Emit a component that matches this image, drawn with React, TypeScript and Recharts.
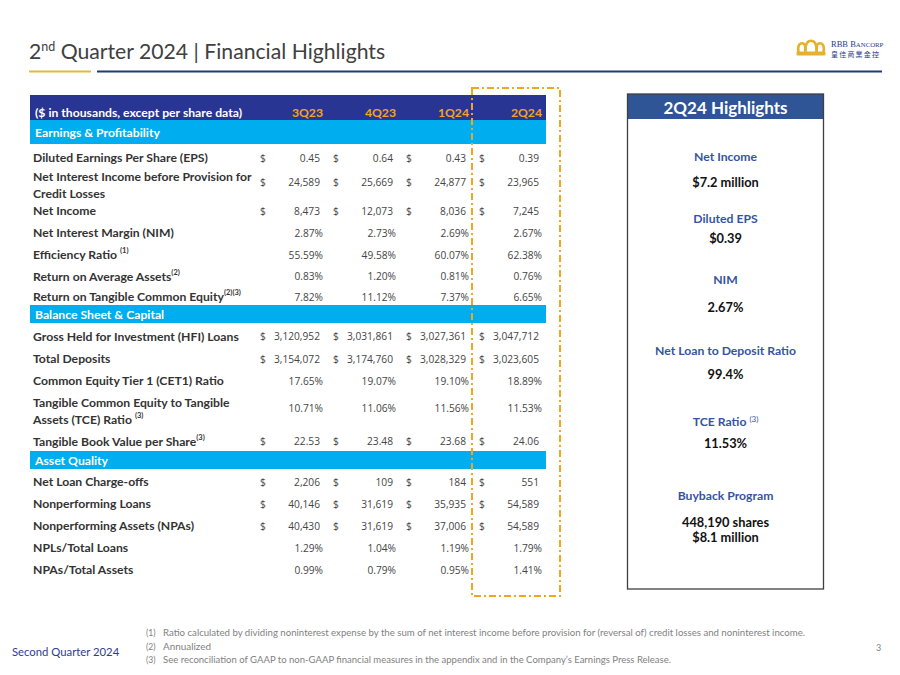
import React from 'react';
import { ScatterChart, Scatter, XAxis, YAxis, ReferenceArea } from 'recharts';

// ---------- DATA ----------
const quarters = ['3Q23', '4Q23', '1Q24', '2Q24'];
const sectionNames = ['Earnings & Profitability', 'Balance Sheet & Capital', 'Asset Quality'];

const dilutedEps = [0.45, 0.64, 0.43, 0.39];
const netInterestIncome = [24589, 25669, 24877, 23965];
const netIncome = [8473, 12073, 8036, 7245];
const nim = [2.87, 2.73, 2.69, 2.67];
const efficiencyRatio = [55.59, 49.58, 60.07, 62.38];
const roaa = [0.83, 1.2, 0.81, 0.76];
const rotce = [7.82, 11.12, 7.37, 6.65];
const hfiLoans = [3120952, 3031861, 3027361, 3047712];
const totalDeposits = [3154072, 3174760, 3028329, 3023605];
const cet1Ratio = [17.65, 19.07, 19.1, 18.89];
const tceRatio = [10.71, 11.06, 11.56, 11.53];
const tbvps = [22.53, 23.48, 23.68, 24.06];
const netChargeOffs = [2206, 109, 184, 551];
const nonperformingLoans = [40146, 31619, 35935, 54589];
const nonperformingAssets = [40430, 31619, 37006, 54589];
const nplRatio = [1.29, 1.04, 1.19, 1.79];
const npaRatio = [0.99, 0.79, 0.95, 1.41];

const highlightLabels = ['Net Income', 'Diluted EPS', 'NIM', 'Net Loan to Deposit Ratio', 'TCE Ratio', 'Buyback Program'];
const highlightSups = ['', '', '', '', '(3)', ''];
const highlightValues = [['$7.2 million'], ['$0.39'], ['2.67%'], ['99.4%'], ['11.53%'], ['448,190  shares', '$8.1 million']];

const footnotes = [
  'Ratio calculated by dividing noninterest expense by the sum of net interest income before provision for (reversal of) credit losses and noninterest income.',
  'Annualized',
  'See reconciliation of GAAP to non-GAAP financial measures in the appendix and in the Company\u2019s Earnings Press Release.',
];

// ---------- LAYOUT / STYLE ----------
const NAVY = '#283593';
const CYAN = '#00AEEF';
const ORANGE = '#F2A51F';
const LABEL_COLOR = '#333333';
const VALUE_COLOR = '#454545';
const HL_BLUE = '#2F5597';
const HL_LABEL = '#34559E';

const TABLE_LEFT = 30;
const TABLE_RIGHT = 546;
const TABLE_TOP = 95;
const TABLE_BOTTOM = 600;
const COL_RIGHT0 = 323;
const COL_STEP = 73;
const HEADER_H = 25;
const X_MIN = -(COL_RIGHT0 - TABLE_LEFT) / COL_STEP;
const X_MAX = X_MIN + (TABLE_RIGHT - TABLE_LEFT) / COL_STEP;
const Y_MAX = TABLE_BOTTOM - TABLE_TOP;
const FOOTNOTE_WIDTHS = [642, 48, 508];
const LABEL_SIZE = 12.2;

type Fmt = 'usd2' | 'usd0' | 'pct';
interface RowSpec {
  kind: 'section' | 'row';
  lines: string[];
  sup?: string;
  values?: number[];
  fmt?: Fmt;
  h: number;
}

const rowSpecs: RowSpec[] = [
  { kind: 'section', lines: [sectionNames[0]], h: 24 },
  { kind: 'row', lines: ['Diluted Earnings Per Share (EPS)'], values: dilutedEps, fmt: 'usd2', h: 24 },
  { kind: 'row', lines: ['Net Interest Income before Provision for', 'Credit Losses'], values: netInterestIncome, fmt: 'usd0', h: 30 },
  { kind: 'row', lines: ['Net Income'], values: netIncome, fmt: 'usd0', h: 22 },
  { kind: 'row', lines: ['Net Interest Margin (NIM)'], values: nim, fmt: 'pct', h: 22 },
  { kind: 'row', lines: ['Efficiency Ratio '], sup: '(1)', values: efficiencyRatio, fmt: 'pct', h: 22 },
  { kind: 'row', lines: ['Return on Average Assets'], sup: '(2)', values: roaa, fmt: 'pct', h: 21 },
  { kind: 'row', lines: ['Return on Tangible Common Equity'], sup: '(2)(3)', values: rotce, fmt: 'pct', h: 20 },
  { kind: 'section', lines: [sectionNames[1]], h: 18 },
  { kind: 'row', lines: ['Gross Held for Investment (HFI) Loans'], values: hfiLoans, fmt: 'usd0', h: 23 },
  { kind: 'row', lines: ['Total Deposits'], values: totalDeposits, fmt: 'usd0', h: 22 },
  { kind: 'row', lines: ['Common Equity Tier 1 (CET1) Ratio'], values: cet1Ratio, fmt: 'pct', h: 22 },
  { kind: 'row', lines: ['Tangible Common Equity to Tangible', 'Assets (TCE) Ratio '], sup: '(3)', values: tceRatio, fmt: 'pct', h: 38 },
  { kind: 'row', lines: ['Tangible Book Value per Share'], sup: '(3)', values: tbvps, fmt: 'usd2', h: 23 },
  { kind: 'section', lines: [sectionNames[2]], h: 18 },
  { kind: 'row', lines: ['Net Loan Charge-offs'], values: netChargeOffs, fmt: 'usd0', h: 22 },
  { kind: 'row', lines: ['Nonperforming Loans'], values: nonperformingLoans, fmt: 'usd0', h: 22 },
  { kind: 'row', lines: ['Nonperforming Assets (NPAs)'], values: nonperformingAssets, fmt: 'usd0', h: 22 },
  { kind: 'row', lines: ['NPLs/Total Loans'], values: nplRatio, fmt: 'pct', h: 22 },
  { kind: 'row', lines: ['NPAs/Total Assets'], values: npaRatio, fmt: 'pct', h: 22 },
];

const highlightLayout = [
  [156.7, 181.7],
  [218.3, 238.3],
  [279.3, 306.7],
  [350.7, 374.3],
  [421.7, 443.3],
  [495, 521.7],
];

// ---------- BUILD ----------
const formatValue = (v: number, fmt: Fmt) => {
  if (fmt === 'pct') return v.toFixed(2) + '%';
  if (fmt === 'usd2') return v.toFixed(2);
  return v.toLocaleString('en-US');
};

interface PlacedRow extends RowSpec { top: number; center: number; }
const placedRows: PlacedRow[] = (() => {
  let acc = HEADER_H;
  return rowSpecs.map((r) => {
    const p = { ...r, top: acc, center: acc + r.h / 2 };
    acc += r.h;
    return p;
  });
})();

const dataRows = placedRows.filter((r) => r.kind === 'row');
const sectionRows = placedRows.filter((r) => r.kind === 'section');

const cellData = dataRows.flatMap((r) =>
  (r.values || []).map((v, i) => ({
    col: i,
    y: r.center,
    text: formatValue(v, r.fmt as Fmt),
    dollar: r.fmt !== 'pct',
    pct: r.fmt === 'pct',
    multi: r.lines.length > 1,
  }))
);

const findRow = (v: number) => dataRows.find((r) => Math.abs(r.center - v) < 0.01);

const TABLE_FONT = 'Lato, "Noto Sans", sans-serif';
const VALUE_FONT = '"Open Sans", "Noto Sans", sans-serif';

const RowLabelTick = (props: any) => {
  const { y, payload } = props;
  const row = findRow(Number(payload && payload.value));
  if (!row) return null;
  const n = row.lines.length;
  const lineGap = 17;
  return (
    <g>
      {row.lines.map((ln, i) => {
        const ly = y + 1.5 + (i - (n - 1) / 2) * lineGap;
        const isLast = i === n - 1;
        return (
          <text
            key={i}
            x={TABLE_LEFT + 3}
            y={ly}
            dominantBaseline="central"
            fontFamily={TABLE_FONT}
            fontWeight={700}
            fontSize={LABEL_SIZE}
            fill={LABEL_COLOR}
          >
            {ln}
            {isLast && row.sup ? (
              <tspan dy={-4.5} fontSize={7.5}>
                {row.sup}
              </tspan>
            ) : null}
          </text>
        );
      })}
    </g>
  );
};

const QuarterTick = (props: any) => {
  const { x, payload } = props;
  return (
    <text
      x={x}
      y={TABLE_TOP + HEADER_H / 2 + 5}
      textAnchor="end"
      dominantBaseline="central"
      fontFamily={TABLE_FONT}
      fontWeight={700}
      fontSize={12.2}
      fill={ORANGE}
    >
      {quarters[Math.round(Number(payload && payload.value))]}
    </text>
  );
};

const ValueCell = (props: any) => {
  const { cx, cy, payload } = props;
  const yy = payload.multi ? cy - 1 : cy + 1.5;
  return (
    <g>
      {payload.dollar ? (
        <text x={cx - 63} y={yy} dominantBaseline="central" fontFamily={VALUE_FONT} fontSize={10.2} fill={VALUE_COLOR}>
          $
        </text>
      ) : null}
      <text
        x={payload.pct ? cx : cx - 3}
        y={yy}
        textAnchor="end"
        dominantBaseline="central"
        fontFamily={VALUE_FONT}
        fontSize={10.2}
        fill={VALUE_COLOR}
      >
        {payload.text}
      </text>
    </g>
  );
};

const bandLabel = (text: string, dy: number) => (p: any) => {
  const vb = p.viewBox || {};
  return (
    <text
      x={vb.x + 5}
      y={vb.y + vb.height / 2 + dy}
      dominantBaseline="central"
      fontFamily={TABLE_FONT}
      fontWeight={700}
      fontSize={LABEL_SIZE}
      fill="#FFFFFF"
    >
      {text}
    </text>
  );
};

const Slide = () => (
  <svg width={900} height={675} style={{ position: 'absolute', left: 0, top: 0, pointerEvents: 'none' }}>
    {/* title */}
    <text x={29} y={59} fontFamily="Lato, sans-serif" fontSize={21.2} fill="#404040">
      2<tspan dy={-8} fontSize={12.5}>nd</tspan>
      <tspan dy={8}> Quarter 2024 | Financial Highlights</tspan>
    </text>
    <rect x={29} y={70.5} width={62} height={2} fill="#E2B93B" />
    <rect x={97} y={70.5} width={785} height={2} fill="#1F3A78" />

    {/* logo */}
    <g fill="none" stroke="#E5B22B" strokeWidth={2.6} strokeLinecap="round">
      <path d="M798.5 52 C797 45 800.5 42.5 803.2 43.5 C805.5 44.3 805.7 48 805.3 52" />
      <path d="M805.3 52 C804.8 44 807.8 40.8 811 40.8 C814.2 40.8 817.2 44 816.7 52" />
      <path d="M816.7 52 C816.3 48 816.5 44.3 818.8 43.5 C821.5 42.5 825 45 823.5 52" />
    </g>
    <rect x={796.5} y={51.5} width={29} height={4} rx={1} fill="#E5B22B" />
    <text x={831} y={47} fontFamily='"Liberation Serif", "DejaVu Serif", serif' fontSize={8.5} fill="#2B3A8C">
      RBB B<tspan fontSize={6.8}>ANCORP</tspan>
    </text>
    <text x={831} y={57} fontFamily='"Noto Sans CJK TC", sans-serif' fontSize={7} letterSpacing={1.2} fill="#2B3A8C">
      皇佳商業金控
    </text>

    {/* dashed highlight box around 2Q24 */}
    <rect x={472} y={88} width={88} height={508} fill="none" stroke={ORANGE} strokeWidth={2} strokeDasharray="7 3 2 3" />

    {/* highlights box */}
    <rect x={627.5} y={94} width={196} height={25} fill={HL_BLUE} />
    <rect x={627.5} y={94} width={196} height={495} fill="none" stroke="#3F3F3F" strokeWidth={1.3} />
    <text x={725.5} y={107.5} textAnchor="middle" dominantBaseline="central" fontFamily="Lato, sans-serif" fontWeight={700} fontSize={17} fill="#FFFFFF">
      2Q24 Highlights
    </text>
    {highlightLabels.map((lab, i) => {
      const [ly, vy] = highlightLayout[i];
      return (
        <g key={lab}>
          <text x={725.5} y={ly} textAnchor="middle" dominantBaseline="central" fontFamily="Lato, sans-serif" fontWeight={700} fontSize={12.2} fill={HL_LABEL}>
            {lab}
            {highlightSups[i] ? (
              <tspan dx={3} dy={-3} fontSize={8} fontWeight={400}>
                {highlightSups[i]}
              </tspan>
            ) : null}
          </text>
          {highlightValues[i].map((v, j) => (
            <text key={j} x={725.5} y={vy + j * 15.6} textAnchor="middle" dominantBaseline="central" fontFamily="Lato, sans-serif" fontWeight={700} fontSize={12.8} fill="#111111">
              {v}
            </text>
          ))}
        </g>
      );
    })}

    {/* footer */}
    <text x={12} y={656} fontFamily="Lato, sans-serif" fontSize={11.3} fill="#2E3D8F">
      Second Quarter 2024
    </text>
    {footnotes.map((f, i) => (
      <g key={i}>
        <text x={146} y={636 + i * 13.5} fontFamily="Lato, sans-serif" fontSize={8.6} fill="#7F7F7F">
          ({i + 1})
        </text>
        <text
          x={163}
          y={636 + i * 13.5}
          fontFamily="Lato, sans-serif"
          fontSize={8.6}
          fill="#7F7F7F"
          textLength={FOOTNOTE_WIDTHS[i]}
          lengthAdjust="spacingAndGlyphs"
        >
          {f}
        </text>
      </g>
    ))}
    <text x={876} y={651} fontFamily="Lato, sans-serif" fontSize={9} fill="#7F7F7F">
      3
    </text>
  </svg>
);

export default function App() {
  return (
    <div style={{ position: 'absolute', left: 0, top: 0, width: 900, height: 675, background: '#FFFFFF', overflow: 'hidden' }}>
      <ScatterChart
        width={900}
        height={675}
        margin={{ top: TABLE_TOP - 1, left: TABLE_LEFT - 1, right: 900 - TABLE_RIGHT, bottom: 675 - TABLE_BOTTOM }}
        style={{ position: 'absolute', left: 0, top: 0 }}
      >
        <ReferenceArea
          x1={X_MIN}
          x2={X_MAX}
          y1={0}
          y2={HEADER_H}
          fill={NAVY}
          fillOpacity={1}
          stroke="none"
          ifOverflow="visible"
          label={bandLabel('($ in thousands, except per share data)', 5)}
        />
        {sectionRows.map((s) => (
          <ReferenceArea
            key={s.lines[0]}
            x1={X_MIN}
            x2={X_MAX}
            y1={s.top}
            y2={s.top + s.h}
            fill={CYAN}
            fillOpacity={1}
            stroke="none"
            ifOverflow="visible"
            label={bandLabel(s.lines[0], 0.5)}
          />
        ))}
        <XAxis
          xAxisId={0}
          type="number"
          dataKey="col"
          orientation="top"
          domain={[X_MIN, X_MAX]}
          allowDataOverflow
          ticks={[0, 1, 2, 3]}
          interval={0}
          height={1}
          axisLine={false}
          tickLine={false}
          tick={<QuarterTick />}
        />
        <YAxis
          yAxisId={0}
          type="number"
          dataKey="y"
          domain={[0, Y_MAX]}
          reversed
          allowDataOverflow
          ticks={dataRows.map((r) => r.center)}
          interval={0}
          width={1}
          axisLine={false}
          tickLine={false}
          tick={<RowLabelTick />}
        />
        <Scatter data={cellData} isAnimationActive={false} shape={<ValueCell />} />
      </ScatterChart>
      <Slide />
    </div>
  );
}
